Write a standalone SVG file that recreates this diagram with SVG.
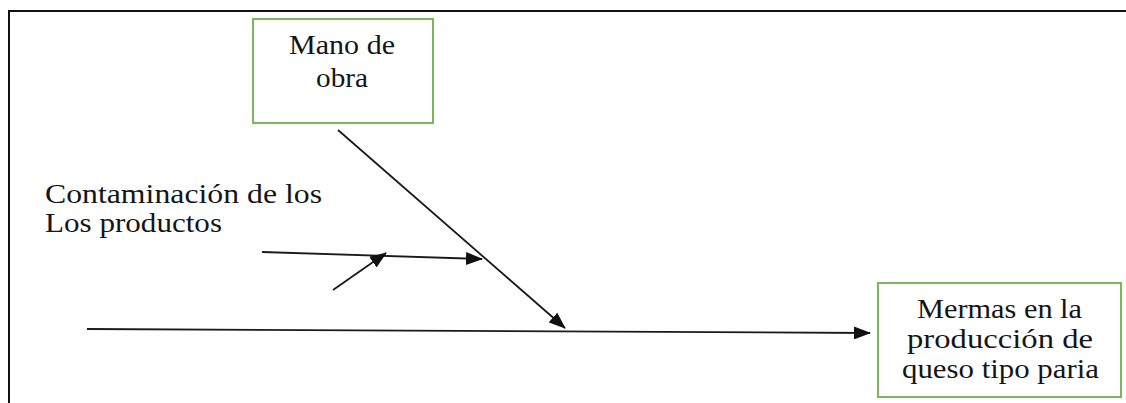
<svg xmlns="http://www.w3.org/2000/svg" width="1126" height="403" viewBox="0 0 1126 403">
<defs>
<style>
text{font-family:"Liberation Serif","Times New Roman",Times,serif;font-size:27px;fill:#151515}
.box{fill:#fff;stroke:#7cb65a;stroke-width:2}
.ln{stroke:#1a1a1a;stroke-width:1.8;fill:none}
</style>
<marker id="ahL" markerWidth="17" markerHeight="13" refX="16" refY="6.5" orient="auto" markerUnits="userSpaceOnUse" viewBox="0 0 17 13">
<path d="M0,0 L17,6.5 L0,13 z" fill="#111"/>
</marker>
</defs>
<rect width="1126" height="403" fill="#fff"/>
<path d="M9,403 V11 H1126" fill="none" stroke="#111" stroke-width="2"/>
<g id="connectors">
<line class="ln" x1="87" y1="329" x2="870" y2="333" marker-end="url(#ahL)"/>
<line class="ln" x1="338" y1="130" x2="565" y2="328" marker-end="url(#ahL)"/>
<line class="ln" x1="262" y1="252" x2="482" y2="259" marker-end="url(#ahL)"/>
<line class="ln" x1="333" y1="290" x2="386" y2="253" marker-end="url(#ahL)"/>
</g>
<g id="mano">
<rect class="box" x="253" y="19" width="180" height="104"/>
<text font-family="Liberation Serif, serif" x="289" y="54" textLength="106" lengthAdjust="spacingAndGlyphs">Mano de</text>
<text font-family="Liberation Serif, serif" x="316" y="87" textLength="52" lengthAdjust="spacingAndGlyphs">obra</text>
</g>
<g id="contaminacion">
<text font-family="Liberation Serif, serif" x="45" y="203" font-size="29" textLength="277" lengthAdjust="spacingAndGlyphs">Contaminación de los</text>
<text font-family="Liberation Serif, serif" x="45" y="232" font-size="29" textLength="177" lengthAdjust="spacingAndGlyphs">Los productos</text>
</g>
<g id="mermas">
<rect class="box" x="878" y="283" width="243" height="114"/>
<text font-family="Liberation Serif, serif" x="917" y="318" textLength="165" lengthAdjust="spacingAndGlyphs">Mermas en la</text>
<text font-family="Liberation Serif, serif" x="907" y="348" textLength="186" lengthAdjust="spacingAndGlyphs">producción de</text>
<text font-family="Liberation Serif, serif" x="902" y="378" textLength="197" lengthAdjust="spacingAndGlyphs">queso tipo paria</text>
</g>
</svg>
